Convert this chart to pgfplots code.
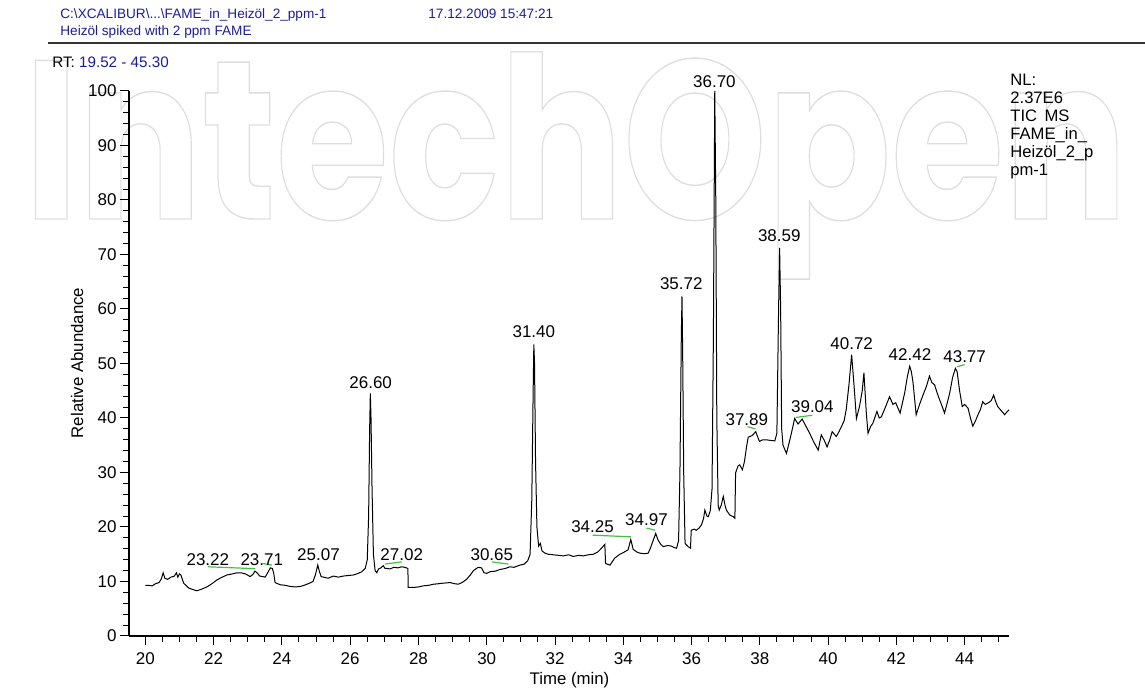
\documentclass[border=0pt]{standalone}
\usepackage{fontspec}
\setmainfont{Liberation Sans}
\newfontfamily\wmfont{Poppins}
\usepackage{pgfplots}
\pgfplotsset{compat=1.18}
\definecolor{hdrblue}{RGB}{28,28,160}
\definecolor{peakgreen}{RGB}{70,190,70}
\definecolor{wmgray}{RGB}{222,222,222}
\newcommand{\px}[2]{({(#1-129)*0.5pt},{(636-#2)*0.5pt})}
\begin{document}
\begin{tikzpicture}
\path[use as bounding box] \px{0}{690} rectangle \px{1145}{0};
% watermark
\node[anchor=base west, inner sep=0, text=wmgray, xscale=0.81] at \px{24}{219}
  {\fontsize{113pt}{118pt}\wmfont\bfseries\special{pdf:literal direct 1 Tr 0.7 w}IntechOpen\special{pdf:literal direct 0 Tr}};
\begin{axis}[
  at={(0,0)}, anchor=south west,
  scale only axis, width=440pt, height=272.5pt,
  xmin=19.52, xmax=45.30, ymin=0, ymax=100,
  axis x line=bottom, axis y line=left,
  axis line style={-, line width=0.6pt},
  xtick={20,22,...,44}, minor xtick={20,20.5,...,45},
  ytick={0,10,...,100}, minor ytick={0,2,...,100},
  tick align=outside,
  major tick length=4.5pt, minor tick length=3pt,
  every tick/.style={black, line width=0.5pt},
  tick label style={font=\fontsize{8.5}{10}\selectfont},
  yticklabel style={inner sep=1.5pt},
  xticklabel style={inner sep=3.5pt},
  /pgf/number format/assume math mode=true,
  clip=false,
]
\addplot[black, line width=0.5pt, mark=none] coordinates {
(20.00,9.3) (20.08,9.3) (20.20,9.2) (20.30,9.6) (20.40,9.8) (20.47,10.5) (20.52,11.6) (20.57,10.6)
(20.65,10.4) (20.75,10.8) (20.85,11.0) (20.91,11.6) (20.95,10.8) (21.00,11.4) (21.04,11.2) (21.12,9.7)
(21.27,8.8) (21.40,8.5) (21.51,8.3) (21.65,8.6) (21.80,9.0) (21.95,9.6) (22.10,10.3) (22.25,10.8)
(22.39,11.2) (22.55,11.4) (22.68,11.6) (22.80,11.6) (22.93,11.4) (23.07,10.9) (23.15,11.3) (23.21,11.9)
(23.27,11.6) (23.35,11.0) (23.51,10.8) (23.60,11.8) (23.66,12.5) (23.72,12.4) (23.76,11.5) (23.80,9.8)
(23.95,9.4) (24.10,9.3) (24.24,9.1) (24.40,9.0) (24.54,9.1) (24.65,9.3) (24.73,9.5) (24.85,9.8)
(24.91,10.0) (24.98,11.2) (25.05,13.0) (25.10,11.8) (25.15,10.9) (25.22,10.8) (25.35,10.6) (25.51,11.0)
(25.65,10.8) (25.80,11.0) (25.95,11.1) (26.10,11.2) (26.24,11.5) (26.34,11.8) (26.44,12.4) (26.50,14.0)
(26.54,22.0) (26.57,38.0) (26.59,44.5) (26.61,40.0) (26.64,27.0) (26.68,15.0) (26.73,12.0) (26.78,11.6)
(26.83,12.3) (26.90,12.5) (26.97,12.9) (27.02,12.4) (27.07,12.4) (27.17,12.3) (27.27,12.6) (27.40,12.5)
(27.51,12.7) (27.60,12.6) (27.69,12.4) (27.70,8.9) (27.85,8.9) (28.00,9.0) (28.14,9.2) (28.30,9.3)
(28.44,9.5) (28.60,9.6) (28.73,9.7) (28.93,9.8) (29.05,9.6) (29.17,9.5) (29.30,9.9) (29.41,10.4)
(29.52,11.2) (29.61,12.0) (29.75,12.6) (29.85,12.5) (29.92,11.6) (30.00,11.5) (30.10,11.8) (30.25,11.9)
(30.39,12.2) (30.55,12.4) (30.68,12.7) (30.80,12.6) (30.97,13.0) (31.10,13.2) (31.20,13.8) (31.27,15.0)
(31.32,25.0) (31.36,45.0) (31.38,53.5) (31.40,50.0) (31.43,32.0) (31.47,20.0) (31.52,16.5) (31.57,17.0)
(31.62,15.6) (31.71,15.2) (31.80,15.0) (31.95,14.9) (32.10,14.8) (32.24,14.7) (32.40,14.9) (32.53,14.6)
(32.70,14.8) (32.83,14.7) (32.97,14.9) (33.12,15.0) (33.25,15.4) (33.36,16.1) (33.46,16.8) (33.48,13.3)
(33.61,13.0) (33.75,14.3) (33.90,15.0) (34.00,15.3) (34.14,15.8) (34.22,17.7) (34.29,15.9) (34.40,15.4)
(34.49,15.2) (34.62,15.1) (34.73,15.2) (34.80,16.2) (34.88,17.6) (34.95,18.8) (35.02,17.6) (35.10,16.8)
(35.17,16.4) (35.30,16.6) (35.41,16.5) (35.50,16.2) (35.56,16.1) (35.62,17.5) (35.66,30.0) (35.70,55.0)
(35.72,62.3) (35.74,52.0) (35.77,30.0) (35.81,17.0) (35.90,16.4) (35.97,16.1) (35.99,19.4) (36.08,19.6)
(36.14,19.4) (36.22,19.8) (36.29,20.4) (36.35,21.5) (36.39,23.1) (36.45,22.0) (36.49,21.9) (36.55,23.0)
(36.60,27.0) (36.64,55.0) (36.68,100) (36.71,80.0) (36.74,40.0) (36.78,24.0) (36.81,23.1) (36.87,24.0)
(36.93,25.6) (36.98,24.0) (37.02,23.1) (37.12,22.2) (37.22,21.9) (37.27,21.6) (37.29,29.9) (37.36,31.2)
(37.41,31.4) (37.49,30.5) (37.55,32.0) (37.61,34.7) (37.66,36.5) (37.71,36.6) (37.78,36.8) (37.88,37.5)
(37.94,36.5) (37.99,35.7) (38.08,36.0) (38.19,36.0) (38.30,35.9) (38.44,35.8) (38.50,37.2) (38.55,60.0)
(38.58,71.2) (38.61,60.0) (38.64,38.0) (38.68,35.0) (38.78,33.5) (38.90,36.5) (39.02,39.9) (39.12,38.9)
(39.24,39.8) (39.35,38.5) (39.46,37.2) (39.58,35.6) (39.71,34.1) (39.80,36.9) (39.88,36.0) (39.97,34.7)
(40.05,36.0) (40.12,37.5) (40.24,36.6) (40.32,37.5) (40.39,38.4) (40.47,39.5) (40.53,41.5) (40.61,46.0)
(40.69,51.6) (40.76,46.0) (40.83,39.9) (40.92,42.1) (41.00,45.0) (41.05,48.3) (41.10,43.0) (41.12,40.9)
(41.17,37.2) (41.25,38.5) (41.31,39.0) (41.43,41.2) (41.50,40.0) (41.56,40.2) (41.68,42.0) (41.80,43.9)
(41.90,42.5) (41.98,42.8) (42.11,40.9) (42.24,44.5) (42.32,47.5) (42.39,49.5) (42.44,48.5) (42.49,46.4)
(42.58,40.6) (42.68,42.5) (42.78,44.2) (42.88,45.8) (42.97,47.7) (43.04,46.5) (43.12,46.1) (43.20,44.5)
(43.27,43.3) (43.35,42.0) (43.41,40.9) (43.50,43.0) (43.56,44.5) (43.65,47.5) (43.73,49.1) (43.78,48.5)
(43.85,45.1) (43.93,42.1) (44.00,42.5) (44.10,41.8) (44.17,40.0) (44.24,38.5) (44.32,39.5) (44.39,40.6)
(44.46,41.5) (44.53,43.0) (44.60,42.5) (44.70,42.8) (44.78,43.2) (44.85,44.2) (44.91,43.0) (44.97,42.1)
(45.05,41.5) (45.12,41.0) (45.17,40.6) (45.25,41.2) (45.30,41.5)
};
% baseline (green) segments
\addplot[peakgreen, line width=0.6pt] coordinates {(21.83,12.7) (23.22,12.35)};
\addplot[peakgreen, line width=0.6pt] coordinates {(23.44,13.3) (23.71,13.0)};
\addplot[peakgreen, line width=0.6pt] coordinates {(27.02,13.2) (27.51,13.6)};
\addplot[peakgreen, line width=0.6pt] coordinates {(30.15,13.6) (30.63,13.2)};
\addplot[peakgreen, line width=0.6pt] coordinates {(33.10,18.5) (34.22,18.2)};
\addplot[peakgreen, line width=0.6pt] coordinates {(34.68,19.8) (34.93,19.4)};
\addplot[peakgreen, line width=0.6pt] coordinates {(37.64,38.4) (37.87,38.0)};
\addplot[peakgreen, line width=0.6pt] coordinates {(39.05,40.1) (39.54,40.5)};
\addplot[peakgreen, line width=0.6pt] coordinates {(43.78,49.4) (44.00,49.8)};
% peak labels
\begin{scope}[every node/.style={anchor=south, inner sep=0pt, font=\fontsize{8.5}{10}\selectfont}]
\node at (axis cs:21.83,12.8) {23.22};
\node at (axis cs:23.41,12.8) {23.71};
\node at (axis cs:25.07,13.8) {25.07};
\node at (axis cs:26.60,45.4) {26.60};
\node at (axis cs:27.51,13.7) {27.02};
\node at (axis cs:30.15,13.7) {30.65};
\node at (axis cs:31.38,54.6) {31.40};
\node at (axis cs:33.10,18.8) {34.25};
\node at (axis cs:34.68,20.1) {34.97};
\node at (axis cs:35.70,63.4) {35.72};
\node at (axis cs:36.67,100.6) {36.70};
\node at (axis cs:37.62,38.5) {37.89};
\node at (axis cs:38.57,72.2) {38.59};
\node at (axis cs:39.54,40.9) {39.04};
\node at (axis cs:40.69,52.5) {40.72};
\node at (axis cs:42.40,50.5) {42.42};
\node at (axis cs:44.00,50.0) {43.77};
\end{scope}
\end{axis}
% axis titles
\node[rotate=90, inner sep=0pt, font=\fontsize{8.4}{10}\selectfont] at \px{77}{363} {Relative Abundance};
\node[anchor=base, inner sep=0pt, font=\fontsize{8.4}{10}\selectfont] at \px{569.5}{684} {Time (min)};
% header
\begin{scope}[every node/.style={anchor=base west, inner sep=0pt, text=hdrblue, font=\fontsize{6.8}{8}\selectfont}]
\node at \px{60}{19} {C:\textbackslash XCALIBUR\textbackslash ...\textbackslash FAME\_in\_Heizöl\_2\_ppm-1};
\node at \px{428}{19} {17.12.2009 15:47:21};
\node at \px{60}{36} {Heizöl spiked with 2 ppm FAME};
\end{scope}
\draw[line width=0.6pt, black!80] \px{48}{43} -- \px{1145}{43};
\node[anchor=base west, inner sep=0pt, font=\fontsize{7.6}{9}\selectfont] at \px{52}{68} {RT: \textcolor{hdrblue}{19.52 - 45.30}};
% NL block
\begin{scope}[every node/.style={anchor=base west, inner sep=0pt, font=\fontsize{8.3}{10}\selectfont}]
\node at \px{1010}{86} {NL:};
\node at \px{1010}{104} {2.37E6};
\node at \px{1010}{122} {TIC\hspace{0.45em}MS};
\node at \px{1010}{140} {FAME\_in\_};
\node at \px{1010}{158} {Heizöl\_2\_p};
\node at \px{1010}{176} {pm-1};
\end{scope}
\end{tikzpicture}
\end{document}
